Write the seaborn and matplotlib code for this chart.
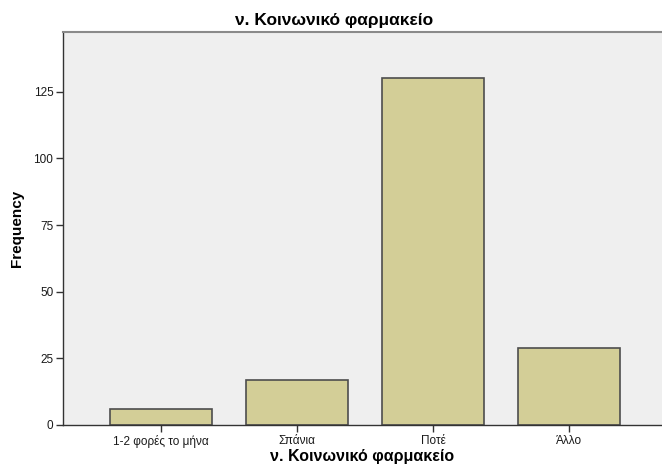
import matplotlib
matplotlib.use('Agg')
import matplotlib.pyplot as plt
import pandas as pd
import seaborn as sns

# Data
categories = ['1-2 φορές το μήνα', 'Σπάνια', 'Ποτέ', 'Άλλο']
frequency = [6, 17, 130, 29]
yticks = [0, 25, 50, 75, 100, 125]
title = 'ν. Κοινωνικό φαρμακείο'

df = pd.DataFrame({'category': categories, 'Frequency': frequency})

sns.set_style('white')
plt.rcParams['font.family'] = ['Liberation Sans', 'DejaVu Sans']
plt.rcParams['text.color'] = 'black'
plt.rcParams['axes.labelcolor'] = 'black'

fig = plt.figure(figsize=(6.62, 4.68), dpi=100)
ax = fig.add_axes([0.0952, 0.0919, 0.913, 0.8397])
ax.set_facecolor('#efefef')

sns.barplot(data=df, x='category', y='Frequency', order=categories,
            color='#d3ce97', saturation=1, width=0.75,
            edgecolor='#4d4d4d', linewidth=1.2, ax=ax)

ax.set_xlim(-0.72, 3.72)
ax.set_ylim(0, 147.4)
ax.set_yticks(yticks)
ax.set_yticklabels([str(v) for v in yticks])

ax.tick_params(axis='both', labelsize=8.5, length=5, width=1, color='#333333',
               labelcolor='#1a1a1a', direction='out', pad=2)
ax.tick_params(axis='x', bottom=True)
ax.tick_params(axis='y', left=True)

for side in ['left', 'bottom']:
    ax.spines[side].set_color('#333333')
    ax.spines[side].set_linewidth(1)
ax.spines['right'].set_visible(False)
ax.spines['top'].set_color('#8a8a8a')
ax.spines['top'].set_linewidth(1.5)

# title sits a little left of the axes centre in the reference
fig.text(334 / 662, 1 - 20 / 468, title, fontsize=12.5, fontweight='bold',
         ha='center', va='center')
ax.set_xlabel('')
fig.text(362 / 662, 1 - 457 / 468, title, fontsize=11.5, fontweight='bold',
         ha='center', va='center')
ax.set_ylabel('Frequency', fontsize=11, fontweight='bold', labelpad=7)

fig.savefig('out.png', dpi=100)
